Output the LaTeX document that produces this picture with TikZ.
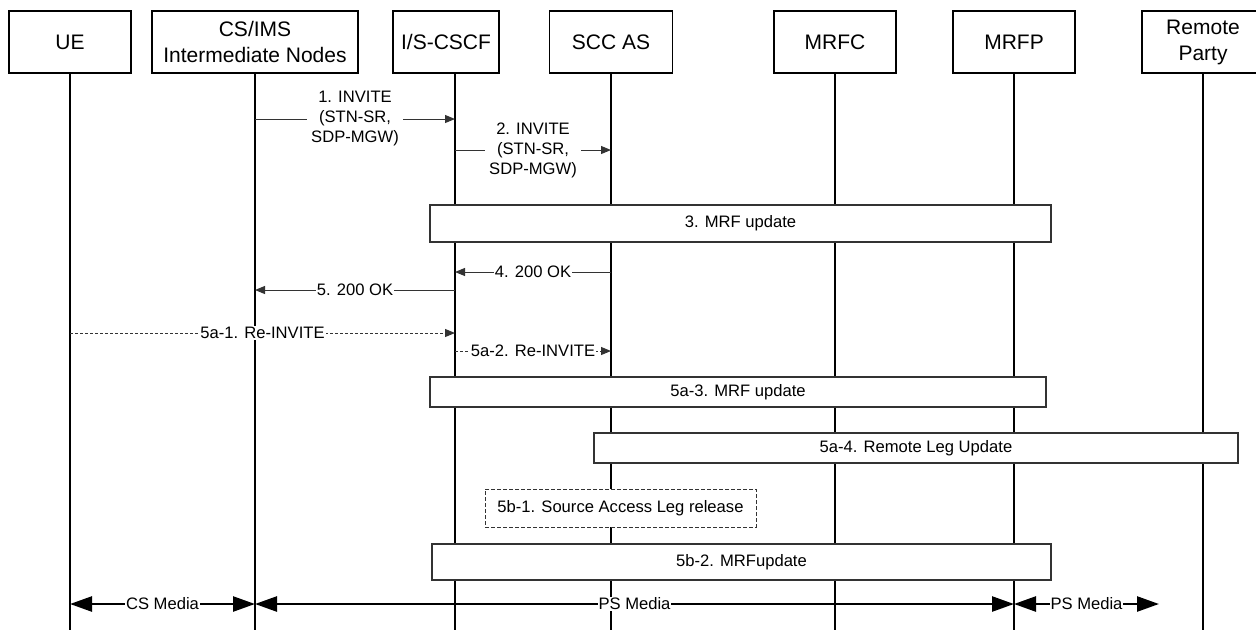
\documentclass[tikz,border=0pt]{standalone}
\usepackage{fontspec}
\setmainfont{Liberation Sans}
\usetikzlibrary{arrows.meta,positioning}
\newcommand{\hdrfont}{\fontsize{21}{26}\selectfont}
\newcommand{\msgfont}{\fontsize{16.6}{20}\selectfont}
\tikzset{
    entity/.style={
           rectangle,
           draw=black, line width=1.2pt,
           minimum height=62pt,
           minimum width=122pt,
           inner sep=2pt,
           align=center,
           font=\hdrfont,
           },
    life/.style={draw=black, line width=1.3pt},
    msg/.style={draw=black!80, line width=1pt, -{Triangle[length=10pt,width=8pt]}},
    reinv/.style={msg, dash pattern=on 3pt off 2pt},
    lbl/.style={fill=white, inner xsep=1pt, inner ysep=1pt, align=center, font=\msgfont},
    proc/.style={
           rectangle,
           draw=black!80, fill=white, line width=1.2pt,
           inner sep=2pt,
           font=\msgfont,
           },
    media/.style={draw=black, line width=2.5pt,
           {Triangle[length=22pt,width=15pt]}-{Triangle[length=22pt,width=15pt]}},
}

\begin{document}
\begin{tikzpicture}[x=1pt, y=-1pt]
    \useasboundingbox (0,0) rectangle (1256,630);

    % Entities: headers along the top
    \node[entity,       % layout (defined above)
    anchor=center] (ue)     % first box, everything else hangs off it
    at (70,42) {UE};

    \node[entity,
    minimum width=206pt,
    right of=ue,
    node distance=185pt,
    anchor=center] (cs)
    {CS/IMS\\Intermediate Nodes};

    \node[entity,
    minimum width=106pt,
    right of=cs,
    node distance=191pt,
    anchor=center] (cscf)
    {I/S-CSCF};

    \node[entity,
    minimum width=123pt,
    right of=cscf,
    node distance=165pt,
    anchor=center] (scc)
    {SCC AS};

    \node[entity,
    right of=scc,
    node distance=224pt,
    anchor=center] (mrfc)
    {MRFC};

    \node[entity,
    right of=mrfc,
    node distance=179pt,
    anchor=center] (mrfp)
    {MRFP};

    \node[entity,
    right of=mrfp,
    node distance=189pt,
    anchor=center] (rp)
    {Remote\\Party};

    % lifeline tops and the rows of the flow
    \coordinate (ue-l) at (ue.south);
    \coordinate (cs-l) at (cs.south);
    \coordinate (cscf-l) at ([xshift=9pt]cscf.south);
    \coordinate (scc-l) at (scc.south);
    \coordinate (mrfc-l) at (mrfc.south);
    \coordinate (mrfp-l) at (mrfp.south);
    \coordinate (rp-l) at (rp.south);
    \coordinate (bot) at (0,630);
    \coordinate (r1) at (0,119);
    \coordinate (r2) at (0,150);
    \coordinate (r4) at (0,272);
    \coordinate (r5) at (0,290);
    \coordinate (r5a1) at (0,333);
    \coordinate (r5a2) at (0,351);
    \coordinate (rm) at (0,604);
    \coordinate (psend) at (1159,604);

    % lifelines
    \path[life]
        (ue-l) edge (ue-l |- bot)
        (cs-l) edge (cs-l |- bot)
        (cscf-l) edge (cscf-l |- bot)
        (scc-l) edge (scc-l |- bot)
        (mrfc-l) edge (mrfc-l |- bot)
        (mrfp-l) edge (mrfp-l |- bot)
        (rp-l) edge (rp-l |- bot);

    % procedure boxes laid over the lifelines
    \node[proc, minimum width=621pt, minimum height=37pt] (mrfupd) at (740.5,223.5) {3. MRF update};
    \node[proc, minimum width=616pt, minimum height=30pt] (mrfupda) at (738,392) {5a-3. MRF update};
    \node[proc, minimum width=644pt, minimum height=30pt] (remleg) at (916,448) {5a-4. Remote Leg Update};
    \node[proc, dash pattern=on 4pt off 2pt, line width=1pt,
    minimum width=271pt, minimum height=38pt] (srcrel) at (620.5,508) {5b-1. Source Access Leg release};
    \node[proc, minimum width=619pt, minimum height=36pt] (mrfupdb) at (741.5,562) {5b-2. MRFupdate};

    % draw the messages and print the text on the arrows
    \path
        (cs-l |- r1)   edge[msg]
            node[lbl, inner xsep=4pt] {1. INVITE\\(STN-SR,\\SDP-MGW)}
        (cscf-l |- r1)

        (cscf-l |- r2)   edge[msg]
            node[lbl, inner xsep=4pt] {2. INVITE\\(STN-SR,\\SDP-MGW)}
        (scc-l |- r2)

        (scc-l |- r4)   edge[msg]
            node[lbl] {4. 200 OK}
        (cscf-l |- r4)

        (cscf-l |- r5)   edge[msg]
            node[lbl] {5. 200 OK}
        (cs-l |- r5)

        (ue-l |- r5a1)   edge[reinv]
            node[lbl] {5a-1. Re-INVITE}
        (cscf-l |- r5a1)

        (cscf-l |- r5a2)   edge[reinv]
            node[lbl] {5a-2. Re-INVITE}
        (scc-l |- r5a2);

    % media paths at the bottom
    \path
        (ue-l |- rm)   edge[media]
            node[lbl] {CS Media}
        (cs-l |- rm)

        (cs-l |- rm)   edge[media]
            node[lbl] {PS Media}
        (mrfp-l |- rm)

        (mrfp-l |- rm)   edge[media]
            node[lbl] {PS Media}
        (psend);
\end{tikzpicture}
\end{document}
